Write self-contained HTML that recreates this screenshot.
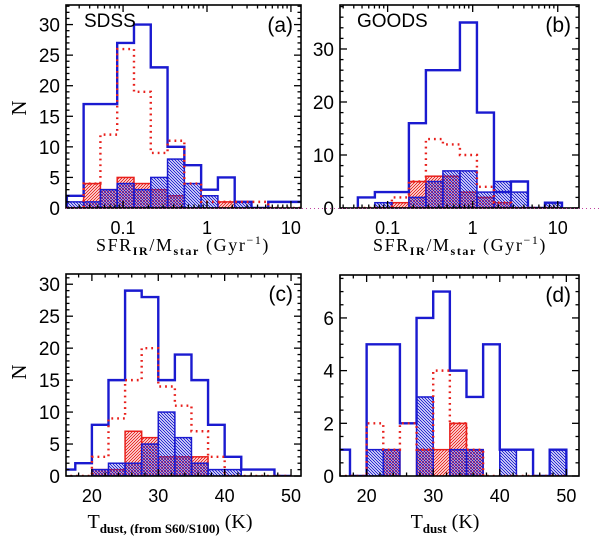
<!DOCTYPE html>
<html><head><meta charset="utf-8"><style>
body{margin:0;background:#fff;width:600px;height:539px;overflow:hidden}
svg{display:block}
text{font-family:"Liberation Sans",sans-serif;fill:#000}
.t{font-family:"Liberation Serif",serif}
</style></head><body>
<svg id="fig" width="600" height="539" viewBox="0 0 600 539">
<defs>
<pattern id="hr" patternUnits="userSpaceOnUse" width="3" height="3"><path d="M-1,1 l2,-2 M0,3 l3,-3 M2,4 l2,-2" stroke="#e8201c" stroke-width="1"/></pattern>
<pattern id="hb" patternUnits="userSpaceOnUse" width="3" height="3"><path d="M-1,2 l2,2 M0,0 l3,3 M2,-1 l2,2" stroke="#1a1ad0" stroke-width="1"/></pattern>
</defs>
</svg>
<script>
// Panel (a) SDSS: log10 bins of 0.2 dex starting at -1.67
const aEdge0 = -1.67, aBinW = 0.2;
const aBlue = [2,17,17,27,30,23,10,7,3,5,1,0,1,1];
const aDotted = [0,4,12,26,19,9,11,4,1,1,1,1,0,0];
const aRedHatch = [0,4,3,5,4,3,2,0,0,1,0,0,0,0];
const aBlueHatch = [1,1,3,4,3,5,8,4,2,0,1,0,0,0];
const aYTicks = [0,5,10,15,20,25,30];
// Panel (b) GOODS
const bEdge0 = -1.35, bBinW = 0.2;
const bBlue = [2,3,3,16,26,26,35,18,3,5,0,1];
const bDotted = [0,0,2,5,13,12,10,4,1,0,0,0];
const bRedHatch = [0,0,1,5,6,6,3,2,1,0,0,0];
const bBlueHatch = [0,1,0,2,5,7,7,3,5,3,0,1];
const bYTicks = [0,10,20,30];
const logXTicks = [0.1,1,10];
const logXLabels = ["0.1","1","10"];
// Panel (c) Tdust (S60/S100): 2.5 K bins from 15 K
const cEdge0 = 15, cBinW = 2.5;
const cBlue = [1,2,8,15,29,28,15,19,15,8,3,1,1,0];
const cDotted = [0,0,3,9,15,20,14,11,7,3,0,0,0,0];
const cRedHatch = [0,0,1,1,7,6,3,3,3,0,0,0,0,0];
const cBlueHatch = [0,0,1,2,2,5,10,6,2,1,1,0,0,0];
const cYTicks = [0,5,10,15,20,25,30];
// Panel (d) Tdust
const dEdge0 = 15, dBinW = 2.5;
const dBlue = [1,0,5,5,2,6,7,4,3,5,1,1,0,1];
const dDotted = [0,0,2,1,2,1,4,2,1,0,0,0,0,0];
const dRedHatch = [0,0,0,1,0,1,1,2,1,0,0,0,0,0];
const dBlueHatch = [0,0,1,1,0,3,0,1,1,0,1,0,0,1];
const dYTicks = [0,2,4,6];
const linXTicks = [20,30,40,50];

const NS = "http://www.w3.org/2000/svg";
const svg = document.getElementById('fig');
function mk(tag, attrs, parent){const e=document.createElementNS(NS,tag);for(const k in attrs)e.setAttribute(k,attrs[k]);(parent||svg).appendChild(e);return e;}

function panel(p){
  const g = mk('g',{});
  
  
  const xs = v => p.x0 + (v - p.xmin)/(p.xmax - p.xmin)*(p.x1 - p.x0);
  const ys = v => p.y1 - (v - p.ymin)/(p.ymax - p.ymin)*(p.y1 - p.y0);
  const cid = 'clip'+p.id;
  const cp = mk('clipPath',{id:cid},g); mk('rect',{x:p.x0,y:p.y0,width:p.x1-p.x0,height:p.y1-p.y0},cp);
  const plot = mk('g',{'clip-path':'url(#'+cid+')'},g);
  function edge(i){return p.e0 + i*p.bw;}
  function bars(vals, fill, stroke, name){
    vals.forEach((v,i)=>{ if(v<=0) return;
      const r = mk('rect',{x:xs(edge(i)),y:ys(v),width:xs(edge(i+1))-xs(edge(i)),height:ys(0)-ys(v),fill:fill,stroke:stroke,'stroke-width':1.5},plot);
      
      
    });
  }
  function step(vals, attrs, name){
    let d = 'M'+xs(edge(0))+','+ys(0);
    vals.forEach((v,i)=>{ d += ' L'+xs(edge(i))+','+ys(v)+' L'+xs(edge(i+1))+','+ys(v); });
    d += ' L'+xs(edge(vals.length))+','+ys(0);
    const path = mk('path',Object.assign({d:d,fill:'none'},attrs),plot);
    
    
  }
  bars(p.red, 'url(#hr)', '#e8201c', 'red-hatched');
  bars(p.bh, 'url(#hb)', '#1a1ad0', 'blue-hatched');
  step(p.blue, {stroke:'#1a1ad0','stroke-width':2.4}, 'blue-histogram');
  step(p.dot, {stroke:'#e8201c','stroke-width':2.4,'stroke-dasharray':'1.8 4'}, 'red-dotted-histogram');
  const fr = mk('rect',{x:p.x0,y:p.y0,width:p.x1-p.x0,height:p.y1-p.y0,fill:'none',stroke:'#000','stroke-width':1.6},g);
  
  
  for(let v=p.ymin; v<=p.ymax+1e-9; v+=p.yminor){
    const y = ys(v), major = Math.abs(v/p.ymajor - Math.round(v/p.ymajor))<1e-6, L = major?7:3.5;
    mk('line',{x1:p.x0,x2:p.x0+L,y1:y,y2:y,stroke:'#000','stroke-width':1.3},g);
    mk('line',{x1:p.x1,x2:p.x1-L,y1:y,y2:y,stroke:'#000','stroke-width':1.3},g);
  }
  p.yt.forEach(v=>{
    const t = mk('text',{x:p.x0-6,y:ys(v)+7,'text-anchor':'end','font-size':19},g);
    t.textContent = v;
    
    
  });
  let xt = [];
  if(p.log){ for(let d=-2; d<=1; d++) for(let m=1;m<=9;m++){ const lv=Math.log10(m*Math.pow(10,d)); if(lv>=p.xmin&&lv<=p.xmax) xt.push([lv,m===1]); } }
  else { for(let v=Math.ceil(p.xmin/2)*2; v<=p.xmax; v+=2) xt.push([v, v%10===0]); }
  xt.forEach(([v,maj])=>{ const x=xs(v), L=maj?7:3.5;
    mk('line',{x1:x,x2:x,y1:p.y1,y2:p.y1-L,stroke:'#000','stroke-width':1.3},g);
    mk('line',{x1:x,x2:x,y1:p.y0,y2:p.y0+L,stroke:'#000','stroke-width':1.3},g);
  });
  p.xt.forEach((v,i)=>{
    const t = mk('text',{x:xs(p.log?Math.log10(v):v),y:p.y1+26,'text-anchor':'middle','font-size':18},g);
    t.textContent = p.xl[i];
    
    
  });
  const lab = mk('text',{x:p.x1-8,y:p.y0+27,'text-anchor':'end','font-size':21},g);
  lab.textContent = '('+p.id+')';
  
  
}

panel({id:'a',x0:66,x1:301,y0:5,y1:208,xmin:-1.68,xmax:1.12,ymin:0,ymax:33.2,ymajor:5,yminor:1,log:true,
  e0:aEdge0,bw:aBinW,blue:aBlue,dot:aDotted,red:aRedHatch,bh:aBlueHatch,yt:aYTicks,xt:logXTicks,xl:logXLabels});
panel({id:'b',x0:340,x1:579,y0:5,y1:208,xmin:-1.56,xmax:1.25,ymin:0,ymax:38.3,ymajor:10,yminor:2,log:true,
  e0:bEdge0,bw:bBinW,blue:bBlue,dot:bDotted,red:bRedHatch,bh:bBlueHatch,yt:bYTicks,xt:logXTicks,xl:logXLabels});
panel({id:'c',x0:66,x1:301,y0:274,y1:476,xmin:16.1,xmax:51.5,ymin:0,ymax:31.6,ymajor:5,yminor:1,log:false,
  e0:cEdge0,bw:cBinW,blue:cBlue,dot:cDotted,red:cRedHatch,bh:cBlueHatch,yt:cYTicks,xt:linXTicks,xl:linXTicks.map(String)});
panel({id:'d',x0:340,x1:579,y0:275,y1:476,xmin:16,xmax:51.9,ymin:0,ymax:7.63,ymajor:2,yminor:0.5,log:false,
  e0:dEdge0,bw:dBinW,blue:dBlue,dot:dDotted,red:dRedHatch,bh:dBlueHatch,yt:dYTicks,xt:linXTicks,xl:linXTicks.map(String)});
</script>
<svg width="600" height="539" style="position:absolute;left:0;top:0">
<line x1="66" y1="208.5" x2="600" y2="208.5" stroke="#c040a0" stroke-width="1" stroke-dasharray="1 3"/>
<text x="84" y="27" font-size="19">SDSS</text>
<text x="357" y="27" font-size="19">GOODS</text>
<text class="t" x="26" y="108" font-size="21" text-anchor="middle" transform="rotate(-90 26 108)">N</text>
<text class="t" x="26" y="372" font-size="21" text-anchor="middle" transform="rotate(-90 26 372)">N</text>
<text class="t" x="183" y="251" font-size="18" text-anchor="middle" letter-spacing="1.6">SFR<tspan font-size="12" dy="4" font-weight="bold">IR</tspan><tspan dy="-4">/M</tspan><tspan font-size="12" dy="4" font-weight="bold">star</tspan><tspan dy="-4">  (Gyr</tspan><tspan font-size="12" dy="-7">−1</tspan><tspan dy="7">)</tspan></text>
<text class="t" x="460" y="251" font-size="18" text-anchor="middle" letter-spacing="1.6">SFR<tspan font-size="12" dy="4" font-weight="bold">IR</tspan><tspan dy="-4">/M</tspan><tspan font-size="12" dy="4" font-weight="bold">star</tspan><tspan dy="-4">  (Gyr</tspan><tspan font-size="12" dy="-7">−1</tspan><tspan dy="7">)</tspan></text>
<text class="t" x="170" y="528" font-size="20" text-anchor="middle">T<tspan font-size="13" dy="5" font-weight="bold">dust, (from S60/S100)</tspan><tspan dy="-5">  (K)</tspan></text>
<text class="t" x="445" y="528" font-size="20" text-anchor="middle">T<tspan font-size="13" dy="5" font-weight="bold">dust</tspan><tspan dy="-5">  (K)</tspan></text>
</svg>
</body></html>
